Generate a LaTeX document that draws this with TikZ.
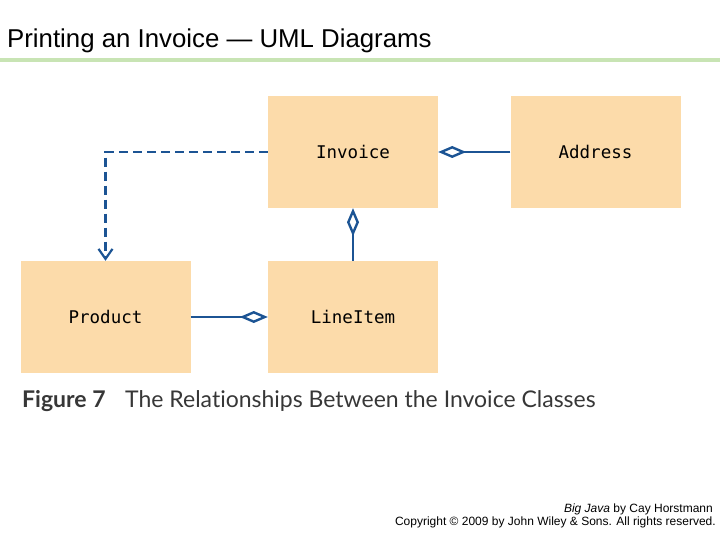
\documentclass[tikz,border=0pt]{standalone}
\usepackage{fontspec}
\setmainfont{Liberation Sans}
\setmonofont{DejaVu Sans Mono}
\newfontfamily\capfont[Ligatures={NoCommon}]{Lato}
\usetikzlibrary{arrows.meta}
\definecolor{boxfill}{RGB}{252,219,170}
\definecolor{umlblue}{RGB}{28,84,148}
\definecolor{rulegreen}{RGB}{200,228,180}
\definecolor{captext}{RGB}{55,55,55}
\begin{document}
\begin{tikzpicture}[x=1pt, y=-1pt,
          cls/.style={fill=boxfill, minimum width=170pt, minimum height=112pt, inner sep=0pt,
            font=\ttfamily\fontsize{17.5}{20}\selectfont},
          assoc/.style={draw=umlblue, line width=2.8pt},
          aggr/.style={assoc, -{Diamond[open, length=28pt, width=12pt, line width=2.4pt]}},
          depend/.style={assoc, dashed, dash pattern=on 9pt off 5pt,
            -{Straight Barb[length=10pt, width=14pt, line width=2.2pt]}}]
        \useasboundingbox (0,0) rectangle (720,540);
        % title and rule
        \node[anchor=base west, inner sep=0pt, font=\fontsize{25.8}{28}\selectfont] (title) at (7,48) {Printing an Invoice — UML Diagrams};
        \fill[rulegreen] (0,58) rectangle (720,62);
        % classes
        \node[cls] (inv) at (353,152) {Invoice};
        \node[cls] (addr) at (595.5,152) {Address};
        \node[cls] (prod) at (105.5,317) {Product};
        \node[cls] (item) at (353,317) {LineItem};
        % relationships
        \draw[depend] (inv.west) -| (prod.north);
        \draw[aggr] (addr.west) -- (inv.east);
        \draw[aggr] (item.north) -- (inv.south);
        \draw[aggr] (prod.east) -- (item.west);
        % caption
        \node[anchor=base west, inner sep=0pt, text=captext, font=\capfont\bfseries\fontsize{23}{26}\selectfont] (fig) at (22,407) {Figure 7};
        \node[anchor=base west, inner sep=0pt, text=captext, font=\capfont\fontsize{23}{26}\selectfont] (cap) at (125,407) {The Relationships Between the Invoice Classes};
        % footer
        \node[anchor=base east, inner sep=0pt, font=\fontsize{12}{14}\selectfont] (book) at (713,512) {\textit{Big Java} by Cay Horstmann};
        \node[anchor=base east, inner sep=0pt, font=\fontsize{12}{14}\selectfont] (copy) at (716,525) {Copyright © 2009 by John Wiley \& Sons.  All rights reserved.};
      \end{tikzpicture}
\end{document}
